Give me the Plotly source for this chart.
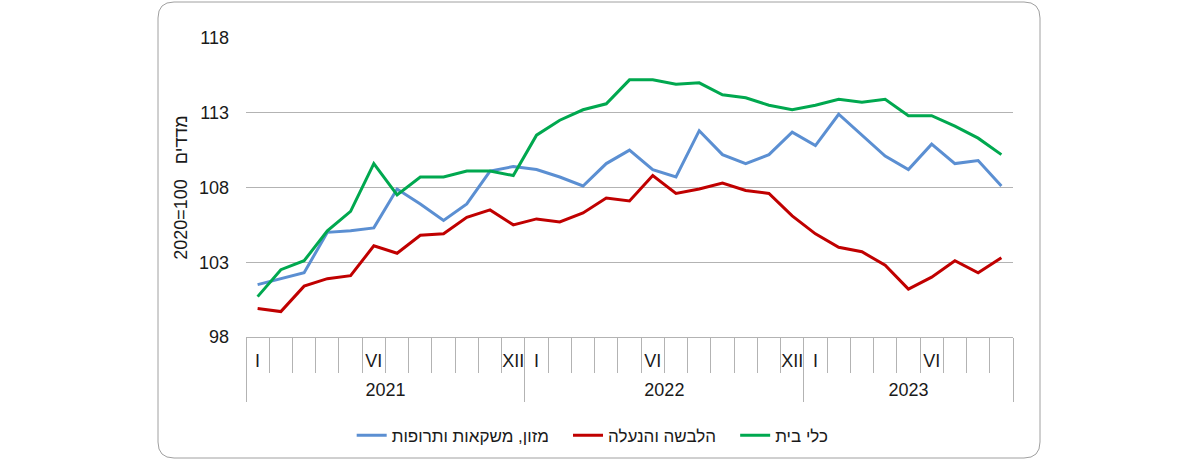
import plotly.graph_objects as go

months = ["I", "", "", "", "", "VI", "", "", "", "", "", "XII"] * 2 + ["I", "", "", "", "", "VI", "", "", ""]
years = ["2021", "2022", "2023"]
year_counts = [12, 12, 9]

food = [101.5, 101.9, 102.3, 105.0, 105.1, 105.3, 107.9, 106.9, 105.8, 106.9, 109.1, 109.4,
        109.2, 108.7, 108.1, 109.6, 110.5, 109.2, 108.7, 111.8, 110.2, 109.6, 110.2, 111.7,
        110.8, 112.9, 111.5, 110.1, 109.2, 110.9, 109.6, 109.8, 108.1]
clothing = [99.9, 99.7, 101.4, 101.9, 102.1, 104.1, 103.6, 104.8, 104.9, 106.0, 106.5, 105.5,
            105.9, 105.7, 106.3, 107.3, 107.1, 108.8, 107.6, 107.9, 108.3, 107.8, 107.6, 106.1,
            104.9, 104.0, 103.7, 102.8, 101.2, 102.0, 103.1, 102.3, 103.3]
household = [100.7, 102.5, 103.1, 105.1, 106.4, 109.6, 107.5, 108.7, 108.7, 109.1, 109.1, 108.8,
             111.5, 112.5, 113.2, 113.6, 115.2, 115.2, 114.9, 115.0, 114.2, 114.0, 113.5, 113.2,
             113.5, 113.9, 113.7, 113.9, 112.8, 112.8, 112.1, 111.3, 110.2]

names = ["מזון, משקאות ותרופות", "הלבשה והנעלה", "כלי בית"]
colors = ["#5B8FD2", "#C00000", "#00A84F"]

n = len(months)
idx = list(range(n))
boundaries = [i - 0.5 for i in range(n + 1)]
year_edges = [-0.5]
year_centers = []
acc = 0
for c in year_counts:
    year_centers.append(acc + (c - 1) / 2)
    acc += c
    year_edges.append(acc - 0.5)

FONT = "Liberation Sans, Arial, sans-serif"
TXT = "#1a1a1a"
GRID = "#B3B3B3"
PAD = "\u00a0" * 3

fig = go.Figure()
for k, (name, vals, col) in enumerate(zip(names, [food, clothing, household], colors)):
    label = name + (PAD if k < len(names) - 1 else "")
    fig.add_trace(go.Scatter(x=idx, y=vals, mode="lines", name=label,
                             line=dict(color=col, width=3), hoverinfo="skip"))
fig.add_trace(go.Scatter(x=[None], y=[None], xaxis="x2", showlegend=False, hoverinfo="skip"))

fig.update_layout(
    width=1200, height=461,
    margin=dict(l=246, r=187, t=38, b=124, autoexpand=False),
    paper_bgcolor="white", plot_bgcolor="white",
    font=dict(family=FONT, size=17, color=TXT),
    showlegend=True,
    legend=dict(orientation="h", x=0.452, xanchor="center", y=-0.33, yanchor="middle",
                font=dict(size=17, color=TXT), traceorder="normal", itemwidth=30),
    xaxis=dict(range=[-0.5, n - 0.5], tickmode="array", tickvals=idx, ticktext=months,
               ticks="", showgrid=False, zeroline=False, showline=True, linecolor=GRID,
               linewidth=1, ticklabelstandoff=7, tickfont=dict(size=18, color=TXT),
               automargin=False,
               minor=dict(tickmode="array", tickvals=boundaries, ticks="outside", ticklen=35,
                          tickwidth=1, tickcolor=GRID, showgrid=False)),
    xaxis2=dict(overlaying="x", anchor="y", side="bottom", matches="x",
                range=[-0.5, n - 0.5], tickmode="array", tickvals=year_centers, ticktext=years,
                ticks="", showgrid=False, zeroline=False, showline=False, automargin=False,
                ticklabelstandoff=40, tickfont=dict(size=18, color=TXT),
                minor=dict(tickmode="array", tickvals=year_edges, ticks="outside", ticklen=64,
                           tickwidth=1, tickcolor=GRID, showgrid=False)),
    yaxis=dict(range=[98, 118], tickmode="array", tickvals=[98, 103, 108, 113, 118],
               ticks="", showgrid=True, gridcolor=GRID, gridwidth=1, zeroline=False,
               showline=False, ticklabelstandoff=16, tickfont=dict(size=18, color=TXT),
               automargin=False,
               title=dict(text="2020=100   מדדים", standoff=6, font=dict(size=18, color=TXT))),
)

# rounded outer frame
W, H = 767.0, 299.0
x0p, x1p = (158 - 246) / W, (1040 - 246) / W
y1p, y0p = (337 - 2) / H, (337 - 458) / H
rx, ry = 16 / W, 16 / H
path = (f"M {x0p + rx},{y1p} L {x1p - rx},{y1p} Q {x1p},{y1p} {x1p},{y1p - ry} "
        f"L {x1p},{y0p + ry} Q {x1p},{y0p} {x1p - rx},{y0p} L {x0p + rx},{y0p} "
        f"Q {x0p},{y0p} {x0p},{y0p + ry} L {x0p},{y1p - ry} Q {x0p},{y1p} {x0p + rx},{y1p} Z")
fig.add_shape(type="path", xref="paper", yref="paper", path=path,
              line=dict(color="#A0A0A0", width=1), layer="below")

fig.write_html("out.html", config={"displayModeBar": False},
               post_script="document.body.style.margin='0';document.body.style.overflow='hidden';")
